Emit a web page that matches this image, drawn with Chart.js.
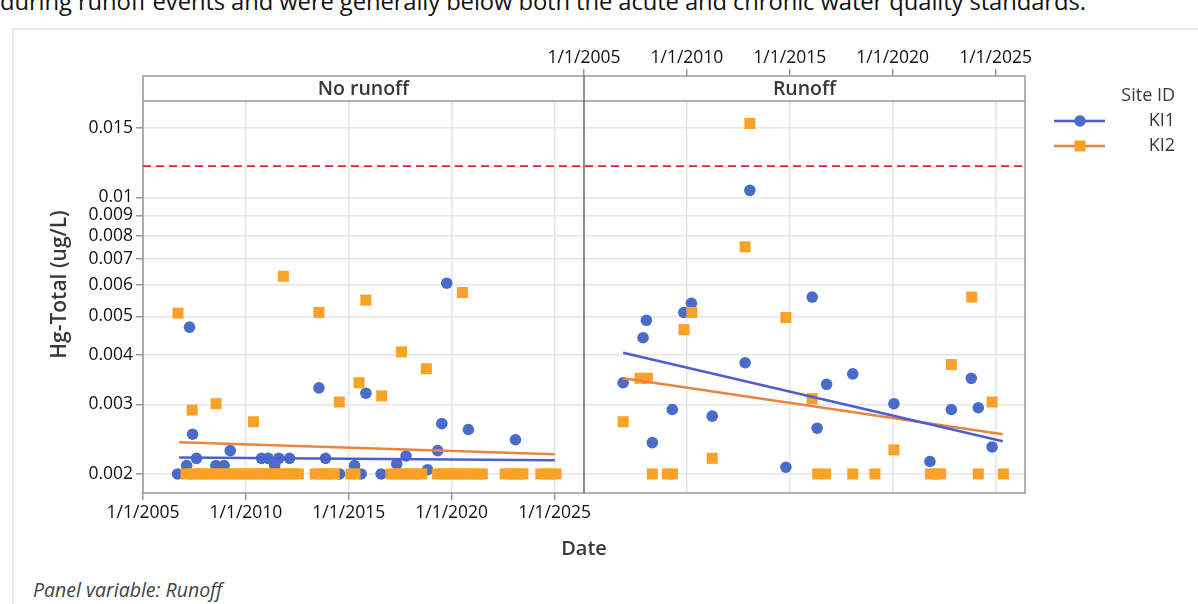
<!DOCTYPE html>
<html>
<head>
<meta charset="utf-8">
<script src="https://cdn.jsdelivr.net/npm/chart.js@4.4.1/dist/chart.umd.min.js"></script>
<style>
  html, body { margin: 0; padding: 0; background: #fff; width: 1198px; height: 604px; overflow: hidden; }
  #lead { position: absolute; left: 0; top: -15px; font-family: 'Open Sans', sans-serif;
          font-size: 23.8px; color: #111; white-space: nowrap; letter-spacing: -0.1px; }
  #frame { position: absolute; left: 12px; top: 28px; width: 1300px; height: 700px;
           border-left: 2px solid #e8e8e8; border-top: 2px solid #e8e8e8; }
  #panelNote { position: absolute; left: 33px; top: 576px; font-family: 'Open Sans', sans-serif;
               font-style: italic; font-size: 19.5px; color: #444; }
  #plot { position: absolute; left: 0; top: 0; }
</style>
</head>
<body>
<div id="lead">during runoff events and were generally below both the acute and chronic water quality standards.</div>
<div id="frame"></div>
<div id="panelNote">Panel variable: Runoff</div>
<canvas id="plot" width="1198" height="604"></canvas>
<script>
// ---- axis setup -------------------------------------------------------
const tickYears = [2005, 2010, 2015, 2020, 2025];
const tickLabels = ['1/1/2005', '1/1/2010', '1/1/2015', '1/1/2020', '1/1/2025'];
const yTicks = [0.002, 0.003, 0.004, 0.005, 0.006, 0.007, 0.008, 0.009, 0.01, 0.015];
const yTickLabels = ['0.002', '0.003', '0.004', '0.005', '0.006', '0.007', '0.008', '0.009', '0.01', '0.015'];
const panelNames = ['No runoff', 'Runoff'];
const siteNames = ['KI1', 'KI2'];
const xStart = 2005;          // left edge of each panel (decimal year)
const panelYears = 21.43;     // width of one panel in years
const yMin = 0.00179;
const yMax = 0.02027;
const hgStandard = 0.012;     // water quality standard (dashed line)

// ---- No runoff panel ----------------------------------------------------
const noRunoffKI1Year = [2006.68, 2007.12, 2007.26, 2007.41, 2007.60, 2008.54, 2008.94, 2009.24, 2010.76, 2011.08,
  2011.40, 2011.60, 2012.12, 2013.55, 2013.87, 2014.55, 2015.28, 2015.60, 2015.83, 2016.57,
  2017.33, 2017.78, 2018.83, 2019.32, 2019.52, 2019.76, 2020.81, 2023.10];
const noRunoffKI1Hg = [0.00200, 0.00210, 0.00470, 0.00252, 0.00219, 0.00210, 0.00210, 0.00229, 0.00219, 0.00219,
  0.00210, 0.00219, 0.00219, 0.00330, 0.00219, 0.00200, 0.00210, 0.00200, 0.00320, 0.00200,
  0.00212, 0.00222, 0.00205, 0.00229, 0.00268, 0.00607, 0.00259, 0.00244];

const noRunoffKI2Year = [2006.70, 2007.39, 2008.55, 2010.37, 2011.82, 2013.55, 2014.54, 2015.50, 2015.83, 2016.60,
  2017.56, 2018.77, 2020.52,
  2007.09, 2007.33, 2007.58, 2007.85, 2008.10, 2008.32, 2008.60, 2008.83, 2009.08, 2009.35,
  2009.57, 2009.84, 2010.10, 2010.33, 2010.58, 2010.86, 2011.09, 2011.33, 2011.58, 2011.85,
  2012.08, 2012.33, 2012.55,
  2013.37, 2013.62, 2013.86, 2014.08, 2014.29,
  2015.10, 2015.30,
  2017.05, 2017.30, 2017.55, 2017.80, 2018.05, 2018.30, 2018.54,
  2019.30, 2019.55, 2019.80, 2020.05, 2020.30, 2020.55, 2020.80, 2021.05, 2021.30, 2021.49,
  2022.60, 2022.85, 2023.10, 2023.30, 2023.46,
  2024.33, 2024.58, 2024.83, 2025.07];
const noRunoffKI2Hg = [0.00510, 0.00290, 0.00301, 0.00271, 0.00632, 0.00512, 0.00304, 0.00340, 0.00550, 0.00315,
  0.00407, 0.00369, 0.00575,
  0.002, 0.002, 0.002, 0.002, 0.002, 0.002, 0.002, 0.002, 0.002, 0.002,
  0.002, 0.002, 0.002, 0.002, 0.002, 0.002, 0.002, 0.002, 0.002, 0.002,
  0.002, 0.002, 0.002,
  0.002, 0.002, 0.002, 0.002, 0.002,
  0.002, 0.002,
  0.002, 0.002, 0.002, 0.002, 0.002, 0.002, 0.002,
  0.002, 0.002, 0.002, 0.002, 0.002, 0.002, 0.002, 0.002, 0.002, 0.002,
  0.002, 0.002, 0.002, 0.002, 0.002,
  0.002, 0.002, 0.002, 0.002];

// ---- Runoff panel -------------------------------------------------------
const runoffKI1Year = [2006.90, 2007.87, 2008.03, 2008.32, 2009.29, 2009.85, 2010.22, 2011.23, 2012.83, 2013.06,
  2014.81, 2016.09, 2016.33, 2016.79, 2018.06, 2020.06, 2021.81, 2022.85, 2023.82, 2024.16, 2024.83];
const runoffKI1Hg = [0.00340, 0.00442, 0.00489, 0.00240, 0.00291, 0.00512, 0.00540, 0.00280, 0.00382, 0.01042,
  0.00208, 0.00560, 0.00261, 0.00337, 0.00358, 0.00301, 0.00215, 0.00291, 0.00349, 0.00294, 0.00234];

const runoffKI2Year = [2006.90, 2007.72, 2008.08, 2008.32, 2009.05, 2009.30, 2009.86, 2010.24, 2011.23, 2012.83,
  2013.06, 2014.81, 2016.09, 2016.36, 2016.74, 2018.06, 2019.14, 2020.06, 2021.84, 2022.08,
  2022.33, 2022.85, 2023.84, 2024.16, 2024.83, 2025.38];
const runoffKI2Hg = [0.00271, 0.00349, 0.00349, 0.00200, 0.00200, 0.00200, 0.00463, 0.00512, 0.00219, 0.00750,
  0.01538, 0.00497, 0.00310, 0.00200, 0.00200, 0.00200, 0.00200, 0.00230, 0.00200, 0.00200,
  0.00200, 0.00378, 0.00560, 0.00200, 0.00304, 0.00200];

// ---- fitted trend lines (start, end) -----------------------------------
const noRunoffKI1FitYear = [2006.76, 2025.01];
const noRunoffKI1FitHg = [0.002200, 0.002166];
const noRunoffKI2FitYear = [2006.76, 2025.01];
const noRunoffKI2FitHg = [0.002406, 0.002242];
const runoffKI1FitYear = [2006.90, 2025.35];
const runoffKI1FitHg = [0.00405, 0.00242];
const runoffKI2FitYear = [2006.90, 2025.35];
const runoffKI2FitHg = [0.00349, 0.00252];

// ---- styling ------------------------------------------------------------
const FONT = "'Open Sans', 'Noto Sans', sans-serif";
const BLUE = '#4a6cc9';
const ORANGE = '#f9a227';
const BLUE_LINE = '#4c5ed0';
const ORANGE_LINE = '#e8853f';
const GRID = '#e6e6e6';
const FRAME = '#999999';
const TEXT = '#111111';
const LABEL = '#383838';

const pts = (xs, ys) => xs.map((x, i) => ({ x: x, y: ys[i] }));

function markerSet(label, xs, ys, axis, site) {
  const circle = site === 0;
  return {
    label: label, data: pts(xs, ys), xAxisID: axis,
    showLine: false,
    pointStyle: circle ? 'circle' : 'rect',
    pointRadius: circle ? 5.8 : 7.8,
    backgroundColor: circle ? BLUE : ORANGE,
    borderColor: circle ? BLUE : ORANGE,
    borderWidth: 0,
    order: circle ? 3 : 2
  };
}
function fitSet(label, xs, ys, axis, color) {
  return {
    label: label, data: pts(xs, ys), xAxisID: axis,
    showLine: true, pointRadius: 0, borderColor: color, borderWidth: 2.6,
    fill: false, order: 1
  };
}

const xMaxLeft = xStart + 2 * panelYears;
const xMinRight = xStart - panelYears;
const xMaxRight = xStart + panelYears;

const datasets = [
  markerSet('KI1 No runoff', noRunoffKI1Year, noRunoffKI1Hg, 'xL', 0),
  markerSet('KI2 No runoff', noRunoffKI2Year, noRunoffKI2Hg, 'xL', 1),
  markerSet('KI1 Runoff', runoffKI1Year, runoffKI1Hg, 'xR', 0),
  markerSet('KI2 Runoff', runoffKI2Year, runoffKI2Hg, 'xR', 1),
  fitSet('KI1 fit No runoff', noRunoffKI1FitYear, noRunoffKI1FitHg, 'xL', BLUE_LINE),
  fitSet('KI2 fit No runoff', noRunoffKI2FitYear, noRunoffKI2FitHg, 'xL', ORANGE_LINE),
  fitSet('KI1 fit Runoff', runoffKI1FitYear, runoffKI1FitHg, 'xR', BLUE_LINE),
  fitSet('KI2 fit Runoff', runoffKI2FitYear, runoffKI2FitHg, 'xR', ORANGE_LINE),
  {
    label: 'Standard', data: [{ x: xStart, y: hgStandard }, { x: xMaxLeft, y: hgStandard }], xAxisID: 'xL',
    showLine: true, pointRadius: 0, borderColor: '#d8262b', borderWidth: 1.6, borderDash: [8, 5], order: 0
  }
];

function yearTicks(scale) {
  scale.ticks = tickYears.map(v => ({ value: v }));
}

// strips, panel frames, axis titles and legend
const panelDecor = {
  id: 'panelDecor',
  beforeDatasetsDraw(chart) {
    const { ctx, chartArea: a } = chart;
    const mid = chart.scales.xR.getPixelForValue(xStart);
    const stripBottom = a.top + 25;
    ctx.save();
    ctx.fillStyle = '#fff';
    ctx.fillRect(a.left, a.top, a.right - a.left, stripBottom - a.top);
    ctx.strokeStyle = FRAME;
    ctx.lineWidth = 1.5;
    ctx.strokeRect(a.left, a.top, a.right - a.left, a.bottom - a.top);
    ctx.beginPath();
    ctx.moveTo(a.left, stripBottom); ctx.lineTo(a.right, stripBottom);
    ctx.stroke();
    ctx.strokeStyle = '#6e6e6e';
    ctx.beginPath();
    ctx.moveTo(mid, a.top); ctx.lineTo(mid, a.bottom);
    ctx.stroke();
    ctx.fillStyle = LABEL;
    ctx.font = `600 19.5px ${FONT}`;
    ctx.textAlign = 'center';
    ctx.textBaseline = 'middle';
    ctx.fillText(panelNames[0], (a.left + mid) / 2, (a.top + stripBottom) / 2 + 1);
    ctx.fillText(panelNames[1], (mid + a.right) / 2, (a.top + stripBottom) / 2 + 1);
    ctx.restore();
  },
  afterDraw(chart) {
    const { ctx, chartArea: a } = chart;
    ctx.save();
    // axis titles
    ctx.fillStyle = LABEL;
    ctx.font = `600 20px ${FONT}`;
    ctx.textAlign = 'center';
    ctx.textBaseline = 'middle';
    ctx.fillText('Date', (a.left + a.right) / 2, 549);
    ctx.translate(60, (a.top + a.bottom) / 2);
    ctx.rotate(-Math.PI / 2);
    ctx.font = `600 21px ${FONT}`;
    ctx.fillText('Hg-Total (ug/L)', 0, 0);
    ctx.restore();

    // legend
    ctx.save();
    const right = 1175;
    ctx.fillStyle = LABEL;
    ctx.font = `18px ${FONT}`;
    ctx.textAlign = 'right';
    ctx.textBaseline = 'middle';
    ctx.fillText('Site ID', right, 96);
    const rows = [121, 146];
    rows.forEach((y, i) => {
      ctx.strokeStyle = i === 0 ? BLUE_LINE : ORANGE_LINE;
      ctx.lineWidth = 2.6;
      ctx.beginPath(); ctx.moveTo(1054, y); ctx.lineTo(1105, y); ctx.stroke();
      ctx.fillStyle = i === 0 ? BLUE : ORANGE;
      if (i === 0) {
        ctx.beginPath(); ctx.arc(1080, y, 5.8, 0, Math.PI * 2); ctx.fill();
      } else {
        ctx.fillRect(1074.5, y - 5.5, 11, 11);
      }
      ctx.fillStyle = LABEL;
      ctx.fillText(siteNames[i], right, y);
    });
    ctx.restore();
  }
};

const tickFont = { family: FONT, size: 17.5 };

new Chart(document.getElementById('plot'), {
  type: 'scatter',
  data: { datasets: datasets },
  plugins: [panelDecor],
  options: {
    responsive: false,
    animation: false,
    events: [],
    layout: { padding: { left: 0, right: 173, top: 0, bottom: 0 } },
    plugins: { legend: { display: false }, tooltip: { enabled: false } },
    scales: {
      xL: {
        type: 'linear', position: 'bottom', min: xStart, max: xMaxLeft,
        afterBuildTicks: yearTicks,
        afterFit(scale) { scale.height = 111; },
        ticks: { font: tickFont, color: TEXT, padding: 3, maxRotation: 0, autoSkip: false,
                 callback: (v, i) => tickLabels[i] },
        grid: { color: GRID, lineWidth: 1.5, tickLength: 7, tickColor: FRAME, tickWidth: 1.5 },
        border: { display: false }
      },
      xR: {
        type: 'linear', position: 'top', min: xMinRight, max: xMaxRight,
        afterBuildTicks: yearTicks,
        afterFit(scale) { scale.height = 76; },
        ticks: { font: tickFont, color: TEXT, padding: 0, maxRotation: 0, autoSkip: false,
                 callback: (v, i) => tickLabels[i] },
        grid: { color: GRID, lineWidth: 1.5, tickLength: 7, tickColor: FRAME, tickWidth: 1.5 },
        border: { display: false }
      },
      y: {
        type: 'logarithmic', position: 'left', min: yMin, max: yMax,
        afterBuildTicks(scale) { scale.ticks = yTicks.map(v => ({ value: v })); },
        afterFit(scale) { scale.width = 143; },
        ticks: { font: tickFont, color: TEXT, padding: 3, autoSkip: false,
                 callback: (v, i) => yTickLabels[i] },
        grid: { color: GRID, lineWidth: 1.5, tickLength: 7, tickColor: FRAME, tickWidth: 1.5 },
        border: { display: false }
      }
    }
  }
});
</script>
</body>
</html>
